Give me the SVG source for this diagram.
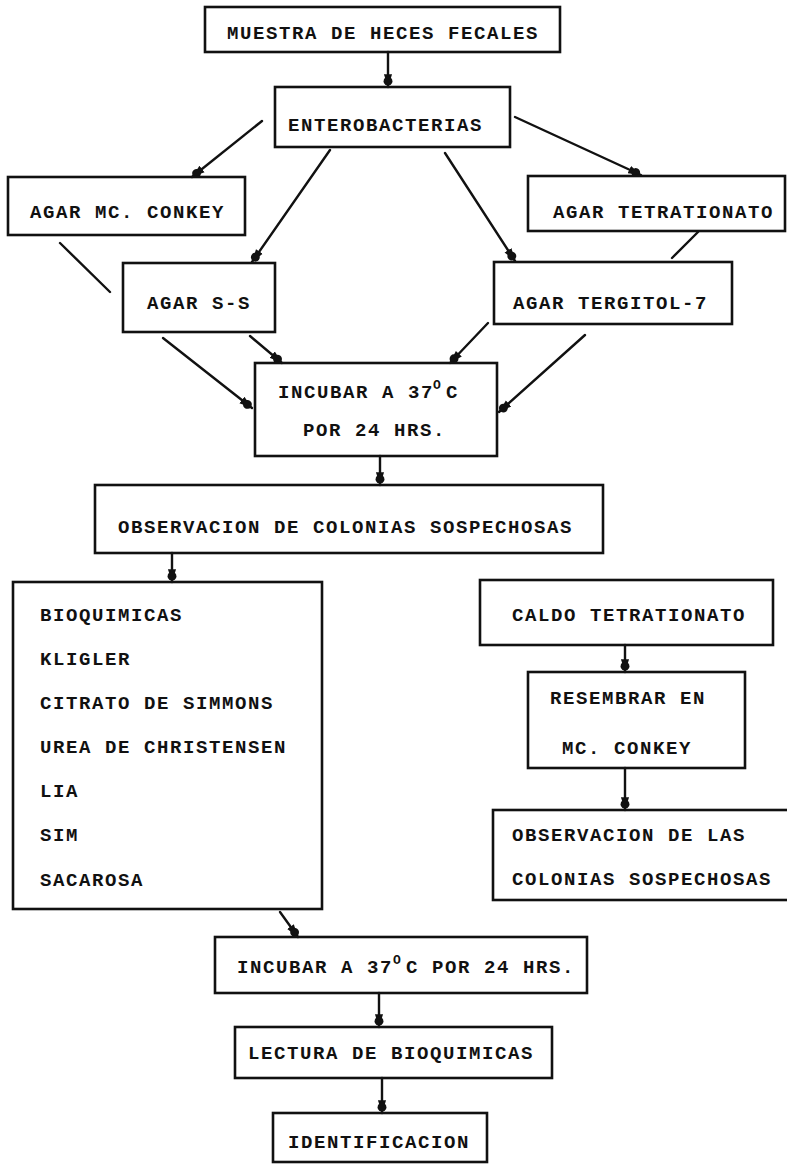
<svg xmlns="http://www.w3.org/2000/svg" width="787" height="1164" viewBox="0 0 787 1164">
<style>
.box{fill:none;stroke:#111;stroke-width:2.6}
.t{font-family:"Liberation Mono",monospace;font-weight:bold;font-size:19px;letter-spacing:1.6px;fill:#111}
.sup{font-size:13px;letter-spacing:0}
.c{stroke:#111;stroke-width:2.4;fill:none;stroke-linecap:round}
.a{marker-end:url(#ah)}
</style>
<defs>
<marker id="ah" markerUnits="userSpaceOnUse" viewBox="0 0 12 10" refX="11" refY="5" markerWidth="14" markerHeight="12" orient="auto">
<path d="M0,1.5 L11,5 L0,8.5 Z" fill="#111"/>
<circle cx="6" cy="5" r="3.8" fill="#111"/>
</marker>
</defs>
<rect width="787" height="1164" fill="#fff"/>
<g id="connectors">
<line class="c a" x1="388" y1="52" x2="388" y2="87"/>
<line class="c a" x1="262" y1="121" x2="192" y2="177"/>
<line class="c a" x1="330" y1="150" x2="252" y2="262"/>
<line class="c a" x1="445" y1="153" x2="515" y2="261"/>
<line class="c a" x1="515" y1="117" x2="641" y2="175"/>
<line class="c" x1="60" y1="243" x2="110" y2="292"/>
<line class="c" x1="698" y1="232" x2="672" y2="258"/>
<line class="c a" x1="163" y1="338" x2="252" y2="408"/>
<line class="c a" x1="250" y1="336" x2="282" y2="363"/>
<line class="c a" x1="488" y1="323" x2="450" y2="363"/>
<line class="c a" x1="585" y1="335" x2="499" y2="412"/>
<line class="c a" x1="380" y1="456" x2="380" y2="485"/>
<line class="c a" x1="172" y1="553" x2="172" y2="582"/>
<line class="c a" x1="625" y1="645" x2="625" y2="672"/>
<line class="c a" x1="625" y1="768" x2="625" y2="810"/>
<line class="c a" x1="280" y1="912" x2="298" y2="937"/>
<line class="c a" x1="379" y1="993" x2="379" y2="1027"/>
<line class="c a" x1="382" y1="1078" x2="382" y2="1113"/>
</g>
<g id="muestra"><rect class="box" x="205" y="7" width="355" height="45"/><text class="t" x="227" y="39">MUESTRA DE HECES FECALES</text></g>
<g id="entero"><rect class="box" x="275" y="87" width="235" height="60"/><text class="t" x="288" y="131">ENTEROBACTERIAS</text></g>
<g id="mcconkey"><rect class="box" x="8" y="177" width="237" height="58"/><text class="t" x="30" y="218">AGAR MC. CONKEY</text></g>
<g id="tetra"><rect class="box" x="528" y="176" width="257" height="55"/><text class="t" x="553" y="218">AGAR TETRATIONATO</text></g>
<g id="ss"><rect class="box" x="123" y="263" width="152" height="69"/><text class="t" x="147" y="309">AGAR S-S</text></g>
<g id="tergitol"><rect class="box" x="494" y="262" width="238" height="62"/><text class="t" x="513" y="309">AGAR TERGITOL-7</text></g>
<g id="incubar1"><rect class="box" x="255" y="363" width="242" height="93"/><text class="t" x="278" y="398">INCUBAR A 37<tspan class="sup" x="433" dy="-9">O</tspan><tspan x="446" dy="9">C</tspan></text><text class="t" x="303" y="436">POR 24 HRS.</text></g>
<g id="observacion"><rect class="box" x="95" y="485" width="508" height="68"/><text class="t" x="118" y="533">OBSERVACION DE COLONIAS SOSPECHOSAS</text></g>
<g id="bioquimicas"><rect class="box" x="13" y="582" width="309" height="327"/>
<text class="t" x="40" y="621">BIOQUIMICAS</text>
<text class="t" x="40" y="665">KLIGLER</text>
<text class="t" x="40" y="709">CITRATO DE SIMMONS</text>
<text class="t" x="40" y="753">UREA DE CHRISTENSEN</text>
<text class="t" x="40" y="797">LIA</text>
<text class="t" x="40" y="841">SIM</text>
<text class="t" x="40" y="886">SACAROSA</text></g>
<g id="caldo"><rect class="box" x="480" y="580" width="293" height="65"/><text class="t" x="512" y="621">CALDO TETRATIONATO</text></g>
<g id="resembrar"><rect class="box" x="528" y="672" width="217" height="96"/><text class="t" x="550" y="704">RESEMBRAR EN</text><text class="t" x="562" y="754">MC. CONKEY</text></g>
<g id="obslas"><rect class="box" x="493" y="810" width="300" height="90"/><text class="t" x="512" y="841">OBSERVACION DE LAS</text><text class="t" x="512" y="885">COLONIAS SOSPECHOSAS</text></g>
<g id="incubar2"><rect class="box" x="215" y="937" width="372" height="56"/><text class="t" x="237" y="973">INCUBAR A 37<tspan class="sup" x="393" dy="-9">O</tspan><tspan x="406" dy="9">C POR 24 HRS.</tspan></text></g>
<g id="lectura"><rect class="box" x="235" y="1027" width="317" height="51"/><text class="t" x="248" y="1059">LECTURA DE BIOQUIMICAS</text></g>
<g id="ident"><rect class="box" x="273" y="1113" width="214" height="49"/><text class="t" x="288" y="1148">IDENTIFICACION</text></g>
</svg>
